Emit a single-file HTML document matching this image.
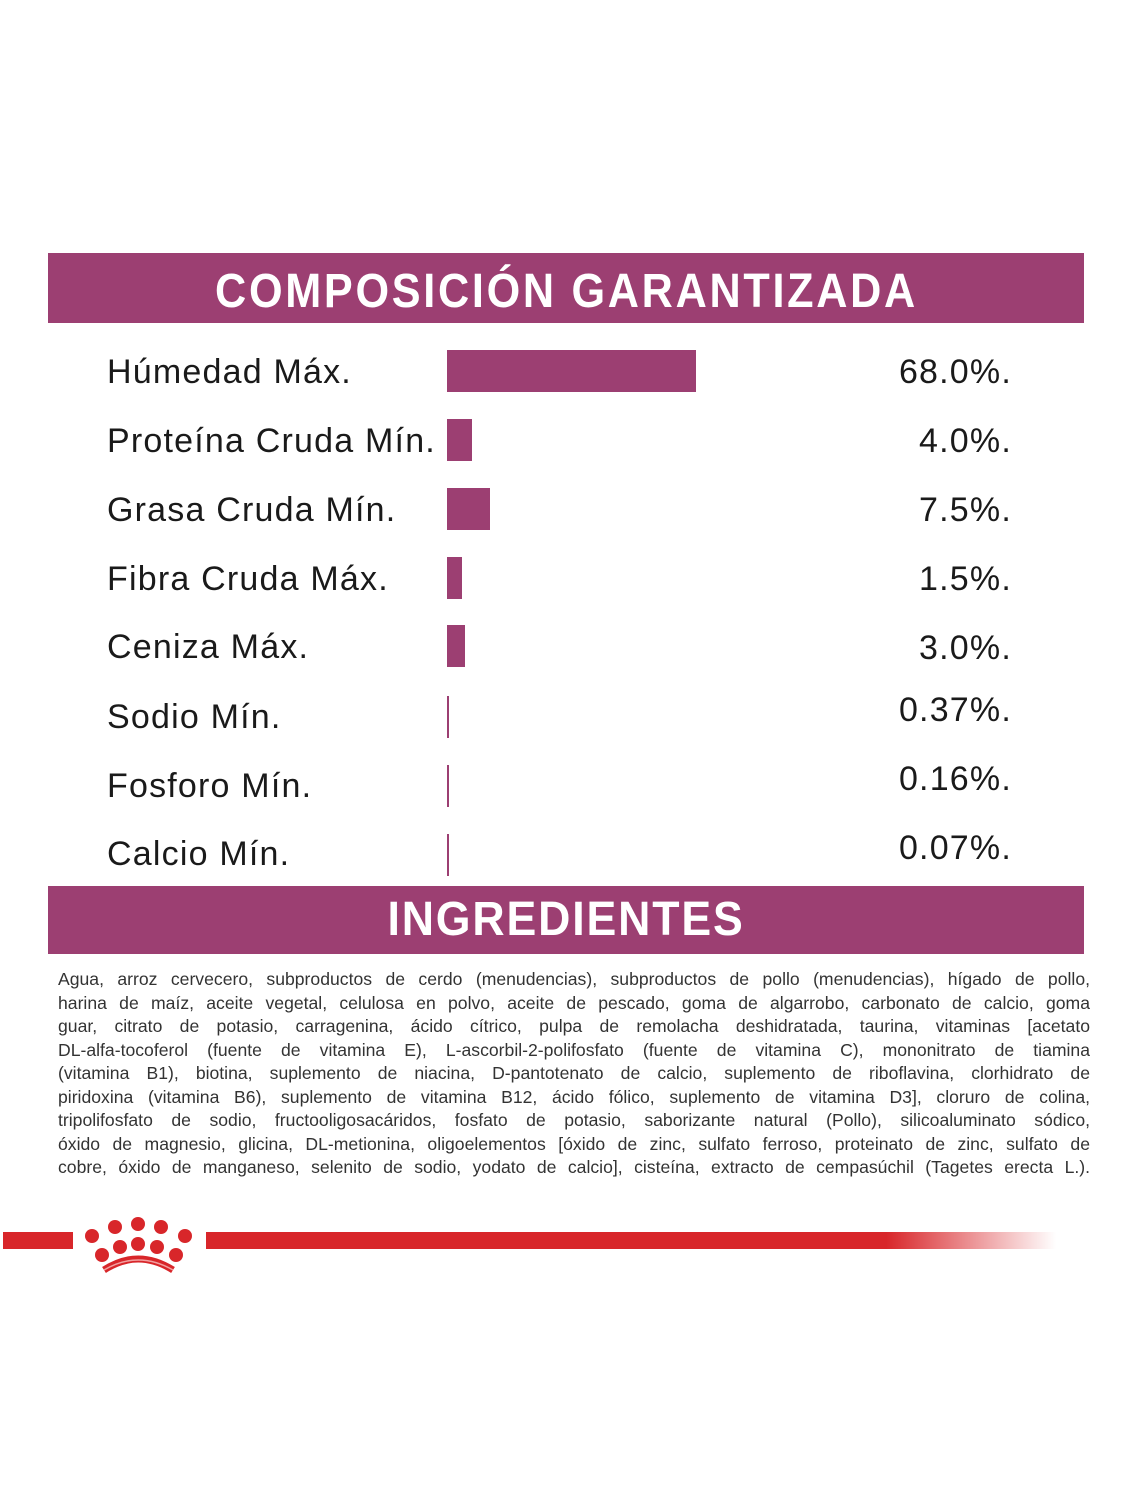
<!DOCTYPE html>
<html><head><meta charset="utf-8"><style>
body{margin:0;width:1125px;height:1500px;background:#fff;position:relative;overflow:hidden;font-family:"Liberation Sans",sans-serif}
.hdr{position:absolute;left:48px;width:1036px;background:#9c3f72;color:#fff;text-align:center;font-weight:bold}
.hdr span{display:inline-block}
.lab{position:absolute;left:107px;font-size:34px;color:#1a1a1a;line-height:40px;letter-spacing:1.2px}
.val{position:absolute;right:113px;font-size:34px;color:#1a1a1a;line-height:40px;text-align:right;letter-spacing:1.2px}
.bar{position:absolute;left:447px;background:#9c3f72}
.p{position:absolute;left:58px;top:968px;width:1032px;font-size:17.6px;line-height:23.5px;color:#333}
.p div{text-align:justify;text-align-last:justify;height:23.5px;overflow:hidden;white-space:nowrap}
.p div span{display:inline-block;transform-origin:left}
</style></head><body>
<div class="hdr" style="top:253px;height:70px;font-size:48px;line-height:78px"><span style="transform:scaleX(0.9);letter-spacing:3px">COMPOSICIÓN GARANTIZADA</span></div>
<div class="lab" style="top:352px">Húmedad Máx.</div><div class="val" style="top:352px">68.0%.</div>
<div class="lab" style="top:421px">Proteína Cruda Mín.</div><div class="val" style="top:421px">4.0%.</div>
<div class="lab" style="top:490px">Grasa Cruda Mín.</div><div class="val" style="top:490px">7.5%.</div>
<div class="lab" style="top:559px">Fibra Cruda Máx.</div><div class="val" style="top:559px">1.5%.</div>
<div class="lab" style="top:627px">Ceniza Máx.</div><div class="val" style="top:628px">3.0%.</div>
<div class="lab" style="top:697px">Sodio Mín.</div><div class="val" style="top:690px">0.37%.</div>
<div class="lab" style="top:766px">Fosforo Mín.</div><div class="val" style="top:759px">0.16%.</div>
<div class="lab" style="top:834px">Calcio Mín.</div><div class="val" style="top:828px">0.07%.</div>
<div class="bar" style="top:350px;width:249px;height:42px"></div>
<div class="bar" style="top:419px;width:25px;height:42px"></div>
<div class="bar" style="top:488px;width:43px;height:42px"></div>
<div class="bar" style="top:557px;width:15px;height:42px"></div>
<div class="bar" style="top:625px;width:18px;height:42px"></div>
<div class="bar" style="top:696px;width:2px;height:42px"></div>
<div class="bar" style="top:765px;width:2px;height:42px"></div>
<div class="bar" style="top:834px;width:2px;height:42px"></div>
<div class="hdr" style="top:886px;height:68px;font-size:48px;line-height:68px"><span style="transform:scaleX(0.93);letter-spacing:2px">INGREDIENTES</span></div>
<div class="p" style="white-space:normal">
<div style="white-space:normal">Agua, arroz cervecero, subproductos de cerdo (menudencias), subproductos de pollo (menudencias), hígado de pollo,</div>
<div style="white-space:normal">harina de maíz, aceite vegetal, celulosa en polvo, aceite de pescado, goma de algarrobo, carbonato de calcio, goma</div>
<div style="white-space:normal">guar, citrato de potasio, carragenina, ácido cítrico, pulpa de remolacha deshidratada, taurina, vitaminas [acetato</div>
<div style="white-space:normal">DL-alfa-tocoferol (fuente de vitamina E), L-ascorbil-2-polifosfato (fuente de vitamina C), mononitrato de tiamina</div>
<div style="white-space:normal">(vitamina B1), biotina, suplemento de niacina, D-pantotenato de calcio, suplemento de riboflavina, clorhidrato de</div>
<div style="white-space:normal">piridoxina (vitamina B6), suplemento de vitamina B12, ácido fólico, suplemento de vitamina D3], cloruro de colina,</div>
<div style="white-space:normal">tripolifosfato de sodio, fructooligosacáridos, fosfato de potasio, saborizante natural (Pollo), silicoaluminato sódico,</div>
<div style="white-space:normal">óxido de magnesio, glicina, DL-metionina, oligoelementos [óxido de zinc, sulfato ferroso, proteinato de zinc, sulfato de</div>
<div style="white-space:normal">cobre, óxido de manganeso, selenito de sodio, yodato de calcio], cisteína, extracto de cempasúchil (Tagetes erecta L.).</div>
</div>
<div style="position:absolute;left:3px;top:1232px;width:70px;height:17px;background:#d8262a"></div>
<div style="position:absolute;left:206px;top:1232px;width:850px;height:17px;background:linear-gradient(to right,#d8262a 0%,#d8262a 80%,rgba(216,38,42,0) 100%)"></div>
<svg style="position:absolute;left:80px;top:1200px" width="120" height="75" viewBox="0 0 120 75">
<g fill="#d8262a">
<circle cx="12" cy="36" r="7"/><circle cx="35" cy="27" r="7"/><circle cx="58" cy="24" r="7"/><circle cx="81" cy="27" r="7"/><circle cx="105" cy="36" r="7"/>
<circle cx="22" cy="55" r="7"/><circle cx="40" cy="47" r="7"/><circle cx="58" cy="44" r="7"/><circle cx="77" cy="47" r="7"/><circle cx="96" cy="55" r="7"/>
</g>
<path d="M24 70 Q58 48 93 70" stroke="#d8262a" stroke-width="7" fill="none"/>
<path d="M24 70 Q58 50 93 70" stroke="#f2a0a0" stroke-width="1.5" fill="none"/>
</svg>
</body></html>
